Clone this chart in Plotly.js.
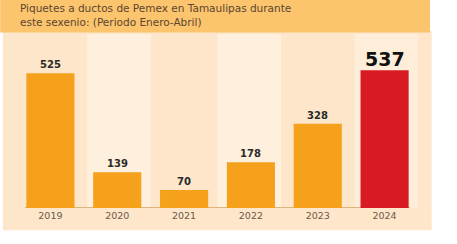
<!DOCTYPE html>
<html>
<head>
<meta charset="utf-8">
<script src="https://cdn.plot.ly/plotly-3.0.1.min.js"></script>
<style>html,body{margin:0;padding:0;background:#fff;}#chart{width:457px;height:244px;}</style>
</head>
<body>
<div id="chart"></div>
<script>
const years = ['2019', '2020', '2021', '2022', '2023', '2024'];
const values = [525, 139, 70, 178, 328, 537];
const barColors = ['#f5a11c', '#f5a11c', '#f5a11c', '#f5a11c', '#f5a11c', '#d81b22'];
const titleLines = ['Piquetes a ductos de Pemex en Tamaulipas durante', 'este sexenio: (Periodo Enero-Abril)'];

const shapes = [
  {type:'rect', xref:'paper', yref:'paper', x0:-0.035, x1:1.034, y0:-0.145, y1:1.15, fillcolor:'#fde6c9', line:{width:0}, layer:'below'},
  {type:'rect', xref:'x', yref:'paper', x0:0.55, x1:1.5, y0:0, y1:1.13, fillcolor:'#fff0de', line:{width:0}, layer:'below'},
  {type:'rect', xref:'x', yref:'paper', x0:2.5, x1:3.45, y0:0, y1:1.13, fillcolor:'#fff0de', line:{width:0}, layer:'below'},
  {type:'rect', xref:'x', yref:'paper', x0:4.55, x1:5.5, y0:0, y1:1.13, fillcolor:'#feedd8', line:{width:0}, layer:'below'},
  {type:'line', xref:'paper', yref:'y', x0:0.02, x1:0.98, y0:0, y1:0, line:{color:'#dcb47c', width:2}, layer:'below'},
  {type:'rect', xref:'paper', yref:'paper', x0:-0.042, x1:1.03, y0:1.14, y1:1.36, fillcolor:'#fcc46c', line:{width:0}}
];

const valueLabels = values.map((v, i) => ({
  x: i, y: v, xref:'x', yref:'y', text: '<b>' + v + '</b>',
  showarrow:false, yanchor:'bottom', yshift: i === 5 ? -2 : 1,
  font: i === 5 ? {family:'DejaVu Sans', size:19, color:'#111111'} : {family:'DejaVu Sans', size:10, color:'#2a2a2a'}
}));

const titleLabels = [
  {xref:'paper', yref:'paper', x:0.003, y:1.348, xanchor:'left', yanchor:'top', align:'left', showarrow:false,
   text: titleLines.join('<br>'), font:{family:'DejaVu Sans', size:10.5, color:'#5a4632'}}
];

const data = [{
  type:'bar', x: years, y: values,
  marker:{color: barColors, line:{width:0}},
  width: 0.72, hoverinfo:'none'
}];

const layout = {
  width:457, height:244,
  margin:{l:17, r:39, t:54, b:36},
  paper_bgcolor:'#ffffff', plot_bgcolor:'rgba(0,0,0,0)',
  showlegend:false,
  xaxis:{type:'category', range:[-0.5, 5.5], showgrid:false, zeroline:false, showline:false, ticks:'',
         tickfont:{family:'DejaVu Sans', size:9.5, color:'#6b5a4a'}, fixedrange:true},
  yaxis:{range:[0, 600], visible:false, fixedrange:true},
  shapes: shapes,
  annotations: valueLabels.concat(titleLabels)
};

Plotly.newPlot('chart', data, layout, {displayModeBar:false, staticPlot:true});
</script>
</body>
</html>
